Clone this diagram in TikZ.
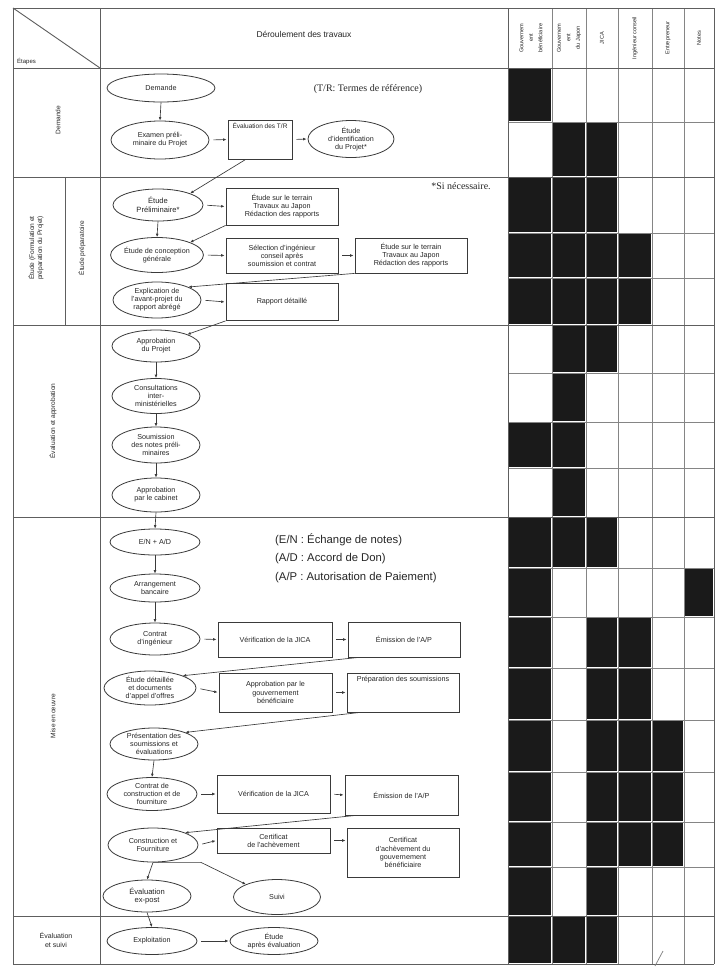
\documentclass[tikz,border=0pt]{standalone}
\usepackage{fontspec}
\setmainfont{Liberation Sans}
\newfontfamily\serifnote{Liberation Serif}
\usetikzlibrary{shapes.geometric,arrows.meta,calc}
\definecolor{linec}{HTML}{3A3A3A}
\definecolor{textc}{HTML}{262626}
\definecolor{gridc}{HTML}{858585}
\definecolor{rulec}{HTML}{5E5E5E}
\definecolor{cellc}{HTML}{1A1A1A}
\newcommand\flowfont{\fontsize{7.2}{8.1}\selectfont}
\newcommand\headfont{\fontsize{5.6}{9.5}\selectfont}
\newcommand\stagefont{\fontsize{6.6}{8}\selectfont}

\begin{document}
\begin{tikzpicture}[x=1pt,y=-1pt,
  flow/.style={draw=linec, line width=0.8pt, ellipse, inner sep=0pt, align=center, font=\flowfont, text=textc},
  box/.style={draw=linec, line width=0.8pt, rectangle, inner sep=1pt, align=center, font=\flowfont, text=textc},
  topbox/.style={box, inner ysep=2pt, text height=6pt, text depth=29pt},
  arr/.style={draw=linec, line width=0.65pt, -{Latex[length=3.4pt,width=2.8pt]}},
  side/.style={arr, shorten <=4pt, shorten >=1pt},
  rule/.style={draw=rulec, line width=0.9pt},
  gridline/.style={draw=gridc, line width=0.75pt},
  stage/.style={font=\stagefont, text=textc, align=center, inner sep=0pt}]

\useasboundingbox (0,0) rectangle (717,967);
\fill[white] (0,0) rectangle (717,967);

% ---------- participation chart (filled cells) ----------
\def\colx{{508,552,586,618,652,684,714}}
\def\rowy{{68,122,177,233,278,325,373,422,468,517,568,617,668,720,772,822,867,916,964}}
\foreach \r/\c in {1/1,2/2,2/3,3/1,3/2,3/3,4/1,4/2,4/3,4/4,5/1,5/2,5/3,5/4,6/2,6/3,7/2,8/1,8/2,9/2,
                   10/1,10/2,10/3,11/1,11/6,12/1,12/3,12/4,13/1,13/3,13/4,14/1,14/3,14/4,14/5,
                   15/1,15/3,15/4,15/5,16/1,16/3,16/4,16/5,17/1,17/3,18/1,18/2,18/3}{
  \pgfmathsetmacro\xa{\colx[\c-1]+1.3}
  \pgfmathsetmacro\xb{\colx[\c]-1.3}
  \pgfmathsetmacro\ya{\rowy[\r-1]+1.3}
  \pgfmathsetmacro\yb{\rowy[\r]-1.3}
  \fill[cellc] (\xa,\ya) rectangle (\xb,\yb);
}

% ---------- table rules ----------
\foreach \y in {122,233,278,373,422,468,568,617,668,720,772,822,867}
  \draw[gridline] (508,\y) -- (714,\y);
\foreach \x in {552,586,618,652,684}
  \draw[gridline] (\x,8) -- (\x,964);
\foreach \y in {8,68,177,325,517,916,964}
  \draw[rule] (13,\y) -- (714,\y);
\foreach \x in {13,100,508,714}
  \draw[rule] (\x,8) -- (\x,964);
\draw[rule] (65,177) -- (65,325);
\draw[rule] (13,8) -- (100,68);
\draw[gridline] (655,966) -- (663,951);

% ---------- header ----------
\node[font=\fontsize{6}{7}\selectfont, text=textc, anchor=south west, inner sep=0pt] (etapes) at (17,65) {Étapes};
\node[font=\fontsize{8.5}{10}\selectfont, text=textc] (deroul) at (304,34) {Déroulement des travaux};
\node[rotate=90, align=center, font=\headfont, text=textc] (h1) at (531,38) {Gouvernem\\ent\\bénéficiaire};
\node[rotate=90, align=center, font=\headfont, text=textc] (h2) at (569,38) {Gouvernem\\ent\\du Japon};
\node[rotate=90, font=\headfont, text=textc] (h3) at (602,38) {JICA};
\node[rotate=90, font=\headfont, text=textc] (h4) at (635,38) {Ingénieur conseil};
\node[rotate=90, font=\headfont, text=textc] (h5) at (668,38) {Entrepreneur};
\node[rotate=90, font=\headfont, text=textc] (h6) at (699,38) {Notes};

% ---------- stages ----------
\node[stage, rotate=90] (s1) at (58,120) {Demande};
\node[stage, rotate=90] (s2) at (36,248) {Étude (Formulation et\\préparation du Projet)};
\node[stage, rotate=90] (s2b) at (82,248) {Étude préparatoire};
\node[stage, rotate=90] (s3) at (53,421) {Évaluation et approbation};
\node[stage, rotate=90] (s4) at (53,716) {Mise en œuvre};
\node[stage, font=\fontsize{7}{8.5}\selectfont] (s5) at (56,940) {Évaluation\\et suivi};

% ---------- notes ----------
\node[font=\serifnote\fontsize{10}{12}\selectfont, text=textc] (tr) at (368,89) {(T/R: Termes de référence)};
\node[font=\serifnote\fontsize{10}{12}\selectfont, text=textc] (sinec) at (461,186) {*Si nécessaire.};
\node[anchor=north west, align=left, inner sep=0pt, text=textc, font=\fontsize{11.3}{18.5}\selectfont] (abbr) at (275,533)
  {(E/N : Échange de notes)\\(A/D : Accord de Don)\\(A/P : Autorisation de Paiement)};

% ---------- Demande ----------
\node[flow, minimum width=108, minimum height=28] (dem) at (161,88) {Demande};
\node[flow, minimum width=98, minimum height=38] (exa) at (160,140) {Examen préli-\\minaire du Projet};
\node[topbox, minimum width=64, font=\fontsize{6.5}{7.5}\selectfont] (evtr) at (260,139.5) {Évaluation des T/R};
\node[flow, minimum width=86, minimum height=37] (ident) at (351,139) {Étude\\d'identification\\du Projet*};

% ---------- Étude ----------
\node[flow, minimum width=90, minimum height=32, font=\fontsize{7.6}{8.6}\selectfont] (epre) at (158,205) {Étude\\Préliminaire*};
\node[box, minimum width=112, minimum height=37] (b1) at (282,206.5) {Étude sur le terrain\\Travaux au Japon\\Rédaction des rapports};
\node[flow, minimum width=88, minimum height=35] (ecg) at (157,255) {Étude de conception\\générale};
\node[box, minimum width=112, minimum height=35] (b2) at (282,255.5) {Sélection d'ingénieur\\conseil après\\soumission et contrat};
\node[box, minimum width=112, minimum height=35] (b3) at (411,255.5) {Étude sur le terrain\\Travaux au Japon\\Rédaction des rapports};
\node[flow, minimum width=88, minimum height=36] (expl) at (157,300) {Explication de\\l'avant-projet du\\rapport abrégé};
\node[box, minimum width=112, minimum height=37] (b4) at (282,302) {Rapport détaillé};

% ---------- Évaluation et approbation ----------
\node[flow, minimum width=88, minimum height=32] (app) at (156,346) {Approbation\\du Projet};
\node[flow, minimum width=88, minimum height=35] (cons) at (156,396) {Consultations\\inter-\\ministérielles};
\node[flow, minimum width=88, minimum height=36] (soum) at (156,445) {Soumission\\des notes préli-\\minaires};
\node[flow, minimum width=88, minimum height=34] (cab) at (156,495) {Approbation\\par le cabinet};

% ---------- Mise en œuvre ----------
\node[flow, minimum width=90, minimum height=26] (en) at (155,542) {E/N + A/D};
\node[flow, minimum width=90, minimum height=28] (arrb) at (155,588) {Arrangement\\bancaire};
\node[flow, minimum width=90, minimum height=32] (cing) at (155,639) {Contrat\\d'ingénieur};
\node[box, minimum width=114, minimum height=35] (v1) at (275,639.5) {Vérification de la JICA};
\node[box, minimum width=112, minimum height=35] (e1) at (404,639.5) {Émission de l'A/P};
\node[flow, minimum width=92, minimum height=34] (edet) at (150,688) {Étude détaillée\\et documents\\d'appel d'offres};
\node[box, minimum width=113, minimum height=39] (b5) at (275.5,692.5) {Approbation par le\\gouvernement\\bénéficiaire};
\node[topbox, minimum width=112] (b6) at (403,692.5) {Préparation des soumissions};
\node[flow, minimum width=88, minimum height=32] (pres) at (154,744) {Présentation des\\soumissions et\\évaluations};
\node[flow, minimum width=90, minimum height=33] (ccf) at (152,794) {Contrat de\\construction et de\\fourniture};
\node[box, minimum width=113, minimum height=38] (v2) at (273.5,794) {Vérification de la JICA};
\node[box, minimum width=113, minimum height=40] (e2) at (401.5,795) {Émission de l'A/P};
\node[flow, minimum width=90, minimum height=34] (cf) at (153,845) {Construction et\\Fourniture};
\node[box, minimum width=113, minimum height=25] (c1) at (273.5,840.5) {Certificat\\de l'achèvement};
\node[box, minimum width=112, minimum height=49] (c2) at (403,852.5) {Certificat\\d'achèvement du\\gouvernement\\bénéficiaire};
\node[flow, minimum width=88, minimum height=32, font=\fontsize{7.6}{8.6}\selectfont] (expo) at (147,896) {Évaluation\\ex-post};
\node[flow, minimum width=87, minimum height=35] (suivi) at (277,897) {Suivi};

% ---------- Évaluation et suivi ----------
\node[flow, minimum width=90, minimum height=27] (explo) at (152,941) {Exploitation};
\node[flow, minimum width=88, minimum height=27] (eae) at (274,941) {Étude\\après évaluation};

% ---------- connectors ----------
\draw[arr] (dem.south) -- (exa.north);
\draw[side] (exa.east) -- (evtr.west);
\draw[side] (evtr.east) -- (ident.west);
\draw[arr] ($(evtr.south west)!0.28!(evtr.south east)$) -- (epre.north east);

\draw[side] (epre.east) -- (b1.west);
\draw[arr] (epre.south) -- (ecg.north);
\draw[arr] (b1.south west) -- (ecg.north east);
\draw[side] (ecg.east) -- (b2.west);
\draw[side] (b2.east) -- (b3.west);
\draw[arr] (b3.south west) -- (expl.north east);
\draw[side] (expl.east) -- (b4.west);
\draw[arr] (b4.south west) -- (app.north east);

\draw[arr] (app.south) -- (cons.north);
\draw[arr] (cons.south) -- (soum.north);
\draw[arr] (soum.south) -- (cab.north);
\draw[arr] (cab.south) -- (en.north);

\draw[arr] (en.south) -- (arrb.north);
\draw[arr] (arrb.south) -- (cing.north);
\draw[side] (cing.east) -- (v1.west);
\draw[side] (v1.east) -- (e1.west);
\draw[arr] ($(e1.south west)!0.1!(e1.south east)$) -- (edet.north east);
\draw[side] (edet.east) -- (b5.west);
\draw[side] (b5.east) -- (b6.west);
\draw[arr] ($(b6.south west)!0.12!(b6.south east)$) -- (pres.north east);
\draw[arr] (pres.south) -- (ccf.north);
\draw[side] (ccf.east) -- (v2.west);
\draw[side] (v2.east) -- (e2.west);
\draw[arr] ($(e2.south west)!0.1!(e2.south east)$) -- (cf.north east);
\draw[side] (cf.east) -- (c1.west);
\draw[side] (c1.east) -- (c1.east -| c2.west);
\draw[arr] (cf.south) -- (expo.north);
\draw[arr] (cf.south) -- ++(48,0) -- (suivi.north west);
\draw[arr] (expo.south) -- (explo.north);
\draw[side] (explo.east) -- (eae.west);
\end{tikzpicture}
\end{document}
